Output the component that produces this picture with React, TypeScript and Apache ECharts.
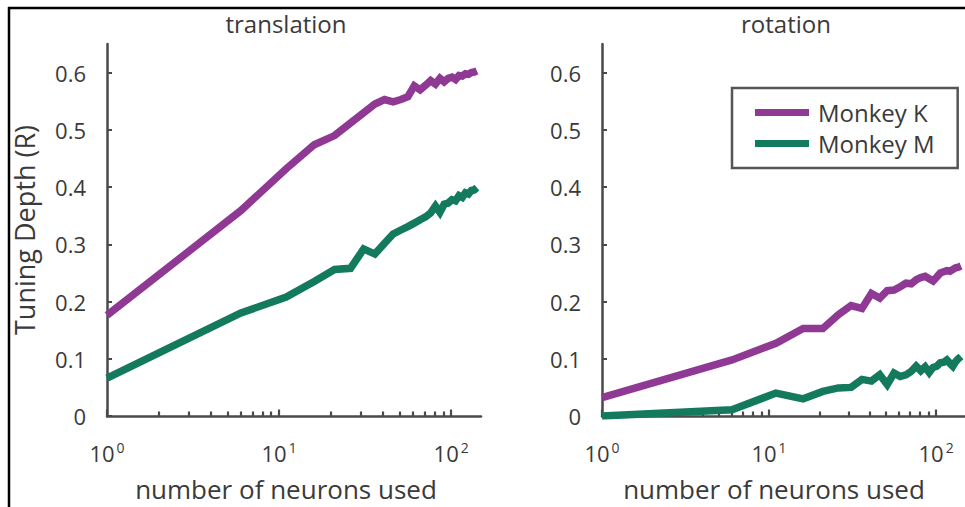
import React, { useEffect, useRef } from "react";
import * as echarts from "echarts";

// Ensemble sizes (number of neurons used)
const neurons = [
  1, 6, 11, 16, 21, 26, 31, 36, 41, 46, 51, 56, 61, 66, 71,
  76, 81, 86, 91, 96, 101, 106, 111, 116, 121, 126, 131, 136, 141,
];

// Tuning depth, translation
const transK = [
  0.176, 0.359, 0.432, 0.474, 0.49, 0.512, 0.53, 0.545, 0.553, 0.549, 0.553, 0.558, 0.577, 0.57, 0.578,
  0.586, 0.58, 0.59, 0.584, 0.59, 0.592, 0.588, 0.595, 0.594, 0.598, 0.597, 0.6, 0.601, 0.603,
];
const transM = [
  0.066, 0.18, 0.208, 0.235, 0.256, 0.258, 0.292, 0.283, 0.302, 0.318, 0.325, 0.331, 0.337, 0.343, 0.348,
  0.355, 0.367, 0.356, 0.37, 0.372, 0.378, 0.376, 0.385, 0.382, 0.39, 0.388, 0.394, 0.395, 0.399,
];

// Tuning depth, rotation
const rotK = [
  0.032, 0.098, 0.127, 0.153, 0.153, 0.177, 0.193, 0.188, 0.214, 0.206, 0.219, 0.22, 0.226, 0.232, 0.231,
  0.238, 0.242, 0.244, 0.24, 0.236, 0.243, 0.25, 0.252, 0.254, 0.253, 0.256, 0.259, 0.26, 0.262,
];
const rotM = [
  0.0, 0.011, 0.04, 0.03, 0.043, 0.049, 0.05, 0.064, 0.061, 0.072, 0.055, 0.075, 0.069, 0.072, 0.078,
  0.087, 0.079, 0.086, 0.076, 0.085, 0.087, 0.093, 0.094, 0.098, 0.092, 0.087, 0.095, 0.1, 0.104,
];

const panelTitles = ["translation", "rotation"];
const seriesNames = ["Monkey K", "Monkey M"];
const yTicks = [0, 0.1, 0.2, 0.3, 0.4, 0.5, 0.6];
const xMajor = [1, 10, 100];
const xMinor = [2, 3, 4, 5, 6, 7, 8, 9, 20, 30, 40, 50, 60, 70, 80, 90];

const FONT = "Open Sans";
const PURPLE = "#8f3995";
const GREEN = "#137a5e";
const AXIS = "#4a4a4a";
const TEXT = "#3a3a3a";

const pairs = (ys: number[]) => neurons.map((n, i) => [n, ys[i]]);

export default function App() {
  const ref = useRef<HTMLDivElement>(null);

  useEffect(() => {
    if (!ref.current) return;
    const chart = echarts.init(ref.current, null, { renderer: "svg" });

    const grids = [
      { left: 107, top: 44, width: 374, height: 374 },
      { left: 602, top: 44, width: 373, height: 374 },
    ];

    // Log axis carrying the line, the decade ticks and the 10^n labels
    const majorX = (gridIndex: number, nameShift: number) => ({
      type: "log",
      gridIndex,
      position: "bottom",
      min: 1,
      max: 149,
      logBase: 10,
      name: "number of neurons used",
      nameLocation: "middle",
      nameGap: 60,
      nameTextStyle: {
        fontFamily: FONT,
        fontSize: 26,
        color: TEXT,
        padding: [0, nameShift, 0, 0],
      },
      axisLine: { show: true, lineStyle: { color: AXIS, width: 2.5 } },
      axisTick: {
        show: true,
        inside: true,
        length: 6.5,
        customValues: xMajor,
        lineStyle: { color: AXIS, width: 2.2 },
      },
      axisLabel: {
        customValues: xMajor,
        margin: 24,
        formatter: (v: number) => `{b|10}{s|${Math.round(Math.log10(v))}}`,
        rich: {
          b: { fontFamily: FONT, fontSize: 22, color: TEXT, lineHeight: 26 },
          s: { fontFamily: FONT, fontSize: 14, color: TEXT, lineHeight: 16, verticalAlign: "top", padding: [0, 0, 0, 2] },
        },
      },
      splitLine: { show: false },
    });

    // Companion log axis that only draws the shorter in-between ticks
    const minorX = (gridIndex: number) => ({
      type: "log",
      gridIndex,
      position: "bottom",
      min: 1,
      max: 149,
      logBase: 10,
      axisLine: { show: false },
      axisLabel: { show: false },
      axisTick: {
        show: true,
        inside: true,
        length: 4.5,
        customValues: xMinor,
        lineStyle: { color: AXIS, width: 2.2 },
      },
      splitLine: { show: false },
    });

    const yAxis = (gridIndex: number, withName: boolean) => ({
      type: "value",
      gridIndex,
      min: 0,
      max: 0.65,
      interval: 0.1,
      name: withName ? "Tuning Depth (R)" : "",
      nameLocation: "middle",
      nameGap: 69,
      nameTextStyle: { fontFamily: FONT, fontSize: 27, color: TEXT },
      axisLine: { show: true, lineStyle: { color: AXIS, width: 2.5 } },
      axisTick: {
        show: true,
        inside: true,
        length: 5,
        customValues: yTicks,
        lineStyle: { color: AXIS, width: 2 },
      },
      axisLabel: {
        customValues: yTicks,
        margin: 21,
        fontFamily: FONT,
        fontSize: 22,
        color: TEXT,
      },
      splitLine: { show: false },
    });

    const line = (name: string, color: string, xi: number, yi: number, ys: number[]) => ({
      type: "line",
      name,
      xAxisIndex: xi,
      yAxisIndex: yi,
      data: pairs(ys),
      showSymbol: false,
      symbol: "none",
      color,
      lineStyle: { color, width: 7.5, join: "miter", cap: "butt" },
    });

    chart.setOption({
      animation: false,
      backgroundColor: "#ffffff",
      title: [
        {
          text: panelTitles[0],
          left: 281,
          top: 6,
          textAlign: "center",
          textStyle: { fontFamily: FONT, fontSize: 24, fontWeight: "normal", color: TEXT },
        },
        {
          text: panelTitles[1],
          left: 781,
          top: 6,
          textAlign: "center",
          textStyle: { fontFamily: FONT, fontSize: 24, fontWeight: "normal", color: TEXT },
        },
      ],
      legend: {
        orient: "vertical",
        left: 732,
        top: 88,
        padding: [11, 23, 11, 23],
        borderColor: "#555555",
        borderWidth: 2.5,
        itemWidth: 54,
        itemHeight: 7,
        itemGap: 4,
        icon: "rect",
        data: seriesNames,
        textStyle: { fontFamily: FONT, fontSize: 24, color: TEXT, lineHeight: 27, padding: [0, 0, 0, 4] },
      },
      grid: grids,
      xAxis: [majorX(0, 16), majorX(1, 19), minorX(0), minorX(1)],
      yAxis: [yAxis(0, true), yAxis(1, false)],
      series: [
        line(seriesNames[0], PURPLE, 0, 0, transK),
        line(seriesNames[1], GREEN, 0, 0, transM),
        line(seriesNames[0], PURPLE, 1, 1, rotK),
        line(seriesNames[1], GREEN, 1, 1, rotM),
      ],
      graphic: [
        { type: "line", shape: { x1: 8, y1: 8, x2: 965, y2: 8 }, style: { stroke: "#000", lineWidth: 2.5 } },
        { type: "line", shape: { x1: 9, y1: 7, x2: 9, y2: 507 }, style: { stroke: "#000", lineWidth: 2.5 } },
      ],
    });

    return () => chart.dispose();
  }, []);

  return (
    <div
      ref={ref}
      style={{ position: "fixed", left: 0, top: 0, width: 965, height: 507 }}
    />
  );
}
